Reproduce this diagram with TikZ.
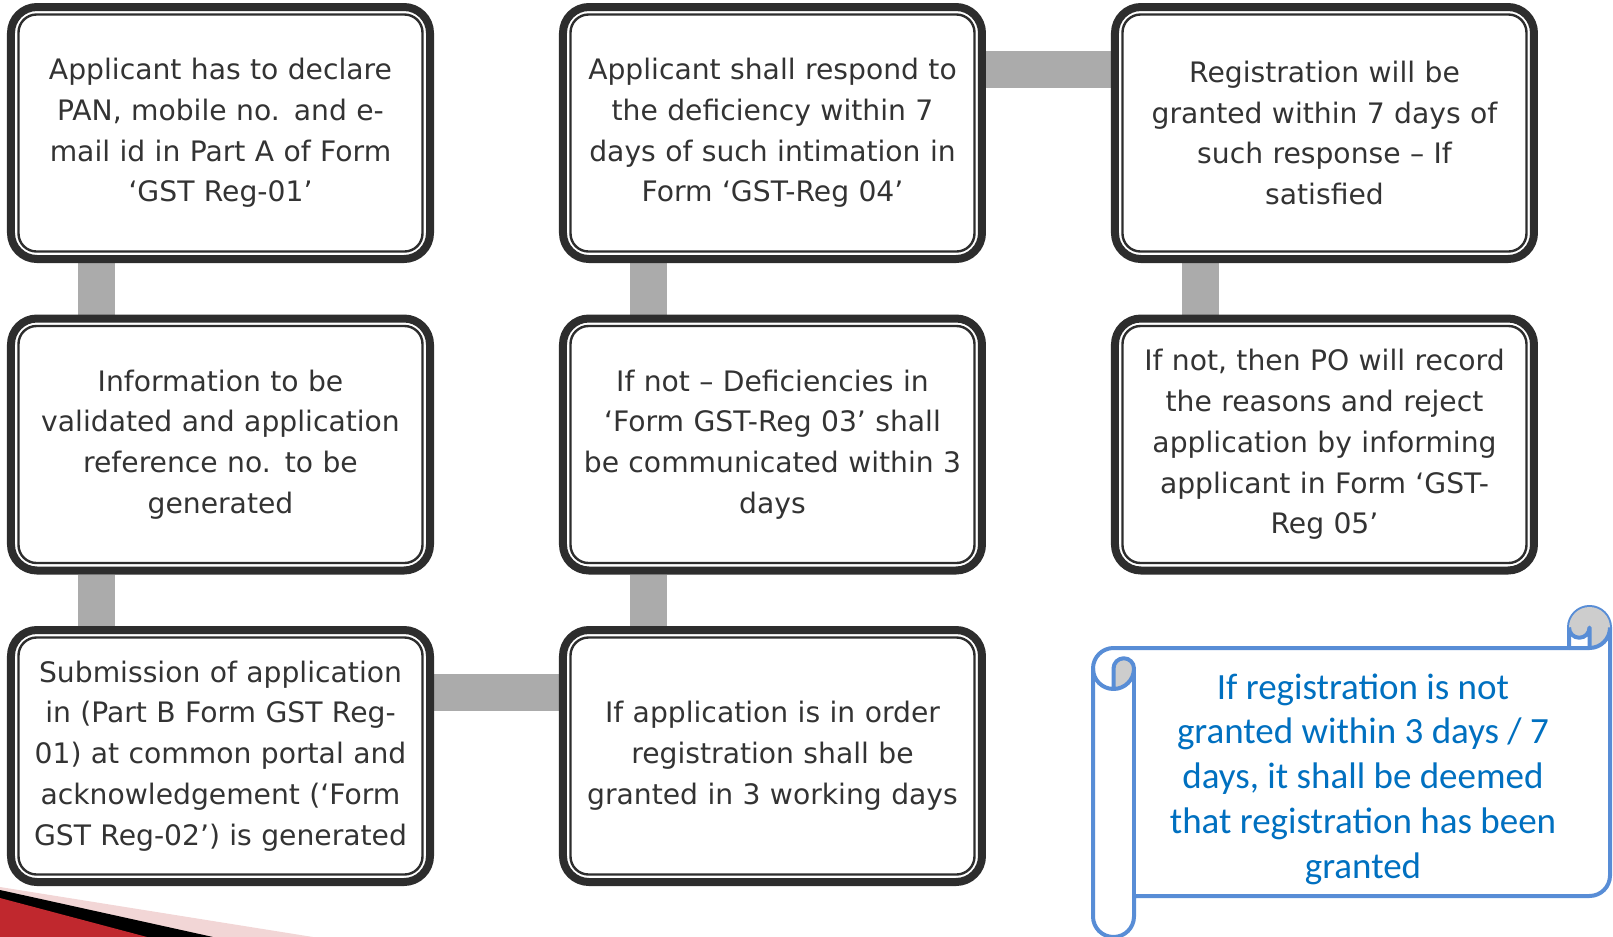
\documentclass[tikz,border=0pt]{standalone}
\usepackage{fontspec}
\setmainfont{DejaVu Sans}
\newfontfamily\notefont{Carlito}
\usetikzlibrary{backgrounds}
\definecolor{boxline}{RGB}{45,45,45}
\definecolor{boxtext}{RGB}{51,51,51}
\definecolor{linkgray}{RGB}{171,171,171}
\definecolor{scrollblue}{RGB}{88,141,214}
\definecolor{deemblue}{RGB}{0,112,192}
\definecolor{curlgray}{RGB}{205,205,205}
\definecolor{slidered}{RGB}{192,40,46}
\definecolor{slidepink}{RGB}{242,214,214}
\newcommand{\stepnode}[2]{\node(#1)[stepbox]{#2}}

\begin{document}
\begin{tikzpicture}[
        x=0.5pt, y=-0.5pt,
        every node/.style={font=\fontsize{14.1pt}{20.4pt}\selectfont, text=boxtext},
        stepbox/.style={rectangle, draw=boxline, fill=white, line width=4pt,
                        rounded corners=13pt, minimum width=209.5pt, minimum height=126pt,
                        text width=200pt, align=center, inner sep=2pt,
                        path picture={\draw[boxline, line width=1.2pt, rounded corners=9pt]
                          ([shift={(3.75pt,-3.75pt)}]path picture bounding box.north west) rectangle
                          ([shift={(-3.75pt,3.75pt)}]path picture bounding box.south east);}},
        link/.style={draw=linkgray, line width=18.5pt},
        scrollline/.style={draw=scrollblue, line width=2pt, line join=round},
        notetext/.style={font=\notefont\fontsize{18.5pt}{22.4pt}\selectfont,
                         text=deemblue, align=center}
      ]
      \useasboundingbox (0,0) rectangle (1613,937);

      % The eight steps sit in a 3x3 matrix
      % columns are read top to bottom, the last cell is left empty
      \matrix (grid) [row sep=25.75pt, column sep=62.5pt] at (772.5,444.5) {
        % Row 1
        \stepnode{declare}{Applicant has to declare\\PAN, mobile no. and e-\\mail id in Part A of Form\\‘GST Reg-01’}; &
        \stepnode{respond}{Applicant shall respond to\\the deficiency within 7\\days of such intimation in\\Form ‘GST-Reg 04’}; &
        \stepnode{granted}{Registration will be\\granted within 7 days of\\such response – If\\satisfied};\\

        % Row 2
        \stepnode{validate}{Information to be\\validated and application\\reference no. to be\\generated}; &
        \stepnode{deficiency}{If not – Deficiencies in\\‘Form GST-Reg 03’ shall\\be communicated within 3\\days}; &
        \stepnode{reject}{If not, then PO will record\\the reasons and reject\\application by informing\\applicant in Form ‘GST-\\Reg 05’};\\

        % Row 3
        \stepnode{submit}{Submission of application\\in (Part B Form GST Reg-\\01) at common portal and\\acknowledgement (‘Form\\GST Reg-02’) is generated}; &
        \stepnode{inorder}{If application is in order\\registration shall be\\granted in 3 working days}; & \\
      };

      % Grey links behind the boxes
      \begin{scope}[on background layer]
        % vertical links, left of the box centres
        \draw[link] ([xshift=-62pt]declare.south) -- ([xshift=-62pt]validate.north);
        \draw[link] ([xshift=-62pt]validate.south) -- ([xshift=-62pt]submit.north);
        \draw[link] ([xshift=-62pt]inorder.north) -- ([xshift=-62pt]deficiency.south);
        \draw[link] ([xshift=-62pt]deficiency.north) -- ([xshift=-62pt]respond.south);
        \draw[link] ([xshift=-62pt]granted.south) -- ([xshift=-62pt]reject.north);
        % horizontal links, above the box centres
        \draw[link] ([yshift=32pt]submit.east) -- ([yshift=32pt]inorder.west);
        \draw[link] ([yshift=32pt]respond.east) -- ([yshift=32pt]granted.west);
      \end{scope}

      % Scroll with the note
      \begin{scope}[shift={(1093,607)}]
        \filldraw[scrollline, fill=white] (0,61.5) arc[start angle=180, end angle=270, radius=20.5]
          -- (476,41) -- (476,20.5) arc[start angle=180, end angle=360, radius=20.5]
          -- (517,268.5) arc[start angle=0, end angle=90, radius=20.5]
          -- (41,289) -- (41,309.5) arc[start angle=0, end angle=180, radius=20.5] -- cycle;
        \fill[curlgray] (20.5,82) arc[start angle=90, end angle=0, radius=20.5]
          arc[start angle=0, end angle=-180, radius=10.25] -- cycle;
        \fill[curlgray] (496.5,41) arc[start angle=90, end angle=-180, radius=20.5]
          arc[start angle=180, end angle=0, radius=10.25] -- cycle;
        \draw[scrollline] (476,41) -- (496.5,41) arc[start angle=90, end angle=0, radius=20.5];
        \draw[scrollline] (496.5,41) -- (496.5,20.5) arc[start angle=0, end angle=180, radius=10.25];
        \draw[scrollline] (20.5,82) -- (20.5,61.5) arc[start angle=180, end angle=360, radius=10.25]
          arc[start angle=0, end angle=180, radius=20.5];
        \draw[scrollline] (41,61.5) -- (41,289);
      \end{scope}
      \node (deemed) [notetext] at (1363,779) {If registration is not\\granted within 3 days / 7\\days, it shall be deemed\\that registration has been\\granted};

      % Slide corner
      \fill[slidepink] (0,887) -- (313,937) -- (0,937) -- cycle;
      \fill[black] (0,890) -- (213,937) -- (0,937) -- cycle;
      \fill[slidered] (0,898) -- (147,937) -- (0,937) -- cycle;
    \end{tikzpicture}
\end{document}
